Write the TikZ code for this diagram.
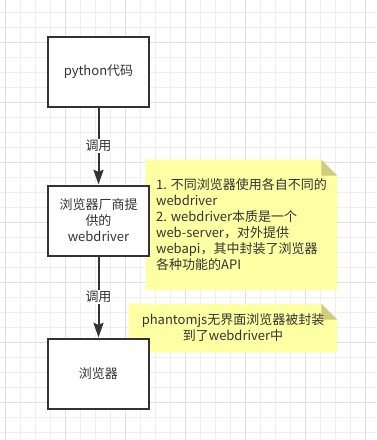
\documentclass[tikz,border=0pt]{standalone}
\usepackage{fontspec}
\setmainfont{Noto Sans CJK SC}
\usepackage{tikz}
\usetikzlibrary{arrows.meta,backgrounds}

\definecolor{inkgray}{HTML}{333333}
\definecolor{gridlight}{HTML}{EFEFEF}
\definecolor{griddark}{HTML}{E0E0E0}
\definecolor{notefill}{HTML}{FFFFA3}
\definecolor{notefold}{HTML}{CDCD7C}

\tikzset{
  flowbox/.style={draw=inkgray, line width=1.5pt, fill=white,
    minimum width=75.75pt, minimum height=52.5pt, align=center,
    text=inkgray, font=\fontsize{9.75pt}{12pt}\selectfont},
  callarrow/.style={draw=inkgray, line width=1.5pt,
    -{Stealth[length=11pt,width=7.5pt,inset=1.5pt]}},
  calllabel/.style={fill=white, text=inkgray, inner sep=1pt,
    font=\fontsize{9.75pt}{12pt}\selectfont},
  notetext/.style={text=inkgray, inner sep=0pt,
    font=\fontsize{9.75pt}{12pt}\selectfont}
}

\begin{document}
\begin{tikzpicture}[x=0.75pt,y=-0.75pt]

\useasboundingbox (0,0) rectangle (376,440);

%-------------------------------------------------------------------
% Boxes
\node[flowbox] (code)    at (98.5,71.5)  {python代码};
\node[flowbox] (driver)  at (98.5,220.5) {浏览器厂商提\\供的\\webdriver};
\node[flowbox] (browser) at (98.5,373.5) {浏览器};

% Calls
\draw[callarrow] (code) -- (driver) node[midway,calllabel] (call1) {调用};
\draw[callarrow] (driver) -- (browser) node[midway,calllabel] (call2) {调用};

%-------------------------------------------------------------------
% Notes
\node[notetext, minimum width=143.25pt, minimum height=97.5pt, align=left]
  (note1) at (241.5,225)
  {1. 不同浏览器使用各自不同的\\webdriver\\2. webdriver本质是一个\\web-server，对外提供\\webapi，其中封装了浏览器\\各种功能的API};
\node[notetext, minimum width=156pt, minimum height=36pt, align=center]
  (note2) at (233,328)
  {phantomjs无界面浏览器被封装\\到了webdriver中};

\begin{scope}[on background layer]
% Grid
\foreach \k in {0,...,24}{
    \draw[gridlight,line width=0.75pt] (5.3+15*\k,0)--(5.3+15*\k,440);}
\foreach \k in {0,...,28}{
    \draw[gridlight,line width=0.75pt] (0,12.3+15*\k)--(376,12.3+15*\k);}
\foreach \k in {0,...,6}{
    \draw[griddark,line width=0.75pt] (5.3+60*\k,0)--(5.3+60*\k,440);
    \draw[griddark,line width=0.75pt] (0,42.3+60*\k)--(376,42.3+60*\k);}

% Note sheets with folded corner
\foreach \n in {note1,note2}{
    \fill[notefill] (\n.south west) -- (\n.north west)
      -- ([xshift=-12pt]\n.north east) -- ([yshift=-12pt]\n.north east)
      -- (\n.south east) -- cycle;
    \fill[notefold] ([xshift=-12pt]\n.north east)
      -- ([xshift=-12pt,yshift=-12pt]\n.north east)
      -- ([yshift=-12pt]\n.north east) -- cycle;
}
\end{scope}

\end{tikzpicture}
\end{document}
